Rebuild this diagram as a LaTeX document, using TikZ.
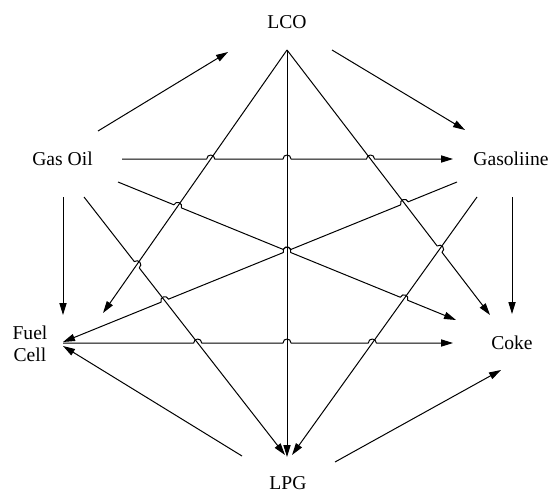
\documentclass[tikz,border=0pt]{standalone}
\usepackage{fontspec}
\setmainfont{Liberation Serif}
\usetikzlibrary{arrows.meta,calc}
\tikzset{hopbend/.style={bend left=90,looseness=1.7}}
\def\hr{2pt}
\newcommand\hops[3]{foreach \t in {#3} {-- ($(#1)!\t!(#2)!\hr!(#1)$) to[hopbend] ($(#1)!\t!(#2)!\hr!(#2)$)}}
\begin{document}
\begin{tikzpicture}[x=0.5pt,y=-0.5pt,line width=0.5pt,line join=round,>={Triangle[length=6pt,width=3.6pt]},every node/.style={inner sep=1pt,font=\fontsize{9.8}{11}\selectfont}]
  \useasboundingbox (0,0) rectangle (550,492);
  \node (lco) at (287,22) {LCO};
  \node (gasoil) at (62.5,159) {Gas Oil};
  \node (gasoline) at (511,159) {Gasoliine};
  \node[align=center] (fuelcell) at (30,344) {Fuel\\Cell};
  \node (coke) at (512,343) {Coke};
  \node (lpg) at (288,483) {LPG};
  \coordinate (go-a) at (98,131);
  \coordinate (go-b) at (122,159);
  \coordinate (go-c) at (118,182);
  \coordinate (go-d) at (63,197);
  \coordinate (go-e) at (84,197);
  \coordinate (lco-a) at (228,52);
  \coordinate (lco-b) at (332,50);
  \coordinate (lco-c) at (287,50);
  \coordinate (gl-a) at (465,130);
  \coordinate (gl-b) at (453,159);
  \coordinate (gl-c) at (457,182);
  \coordinate (gl-d) at (477,197);
  \coordinate (gl-e) at (512,197);
  \coordinate (fc-a) at (63,315);
  \coordinate (fc-b) at (103,313);
  \coordinate (fc-c) at (63,342);
  \coordinate (fc-d) at (63,343);
  \coordinate (fc-e) at (63,346);
  \coordinate (ck-a) at (456,320);
  \coordinate (ck-b) at (490,315);
  \coordinate (ck-c) at (512,314);
  \coordinate (ck-d) at (453,343);
  \coordinate (ck-e) at (501,370);
  \coordinate (lpg-a) at (285,455);
  \coordinate (lpg-b) at (287,457);
  \coordinate (lpg-c) at (292,455);
  \coordinate (lpg-d) at (242,456);
  \coordinate (lpg-e) at (335,462);
  \draw[->] (go-a) -- (lco-a);
  \draw[->] (lco-b) -- (gl-a);
  \draw[->] (go-b) \hops{go-b}{gl-b}{0.2681,0.4985,0.7508} -- (gl-b);
  \draw[->] (go-c) \hops{go-c}{ck-a}{0.1764,0.5,0.8462} -- (ck-a);
  \draw[->] (go-d) -- (fc-a);
  \draw[->] (go-e) \hops{go-e}{lpg-a}{0.2625} -- (lpg-a);
  \draw[->] (lco-c) -- (fc-b);
  \draw[->] (lco-c) -- (lpg-b);
  \draw[->] (lco-c) \hops{lco-c}{ck-b}{0.7516} -- (ck-b);
  \draw[<-] (fc-c) \hops{fc-c}{gl-c}{0.2583,0.5685,0.8666} -- (gl-c);
  \draw[->] (gl-d) -- (lpg-c);
  \draw[->] (gl-e) -- (ck-c);
  \draw[->] (fc-d) \hops{fc-d}{ck-d}{0.3454,0.5744,0.7931} -- (ck-d);
  \draw[->] (lpg-d) -- (fc-e);
  \draw[->] (lpg-e) -- (ck-e);
\end{tikzpicture}
\end{document}
